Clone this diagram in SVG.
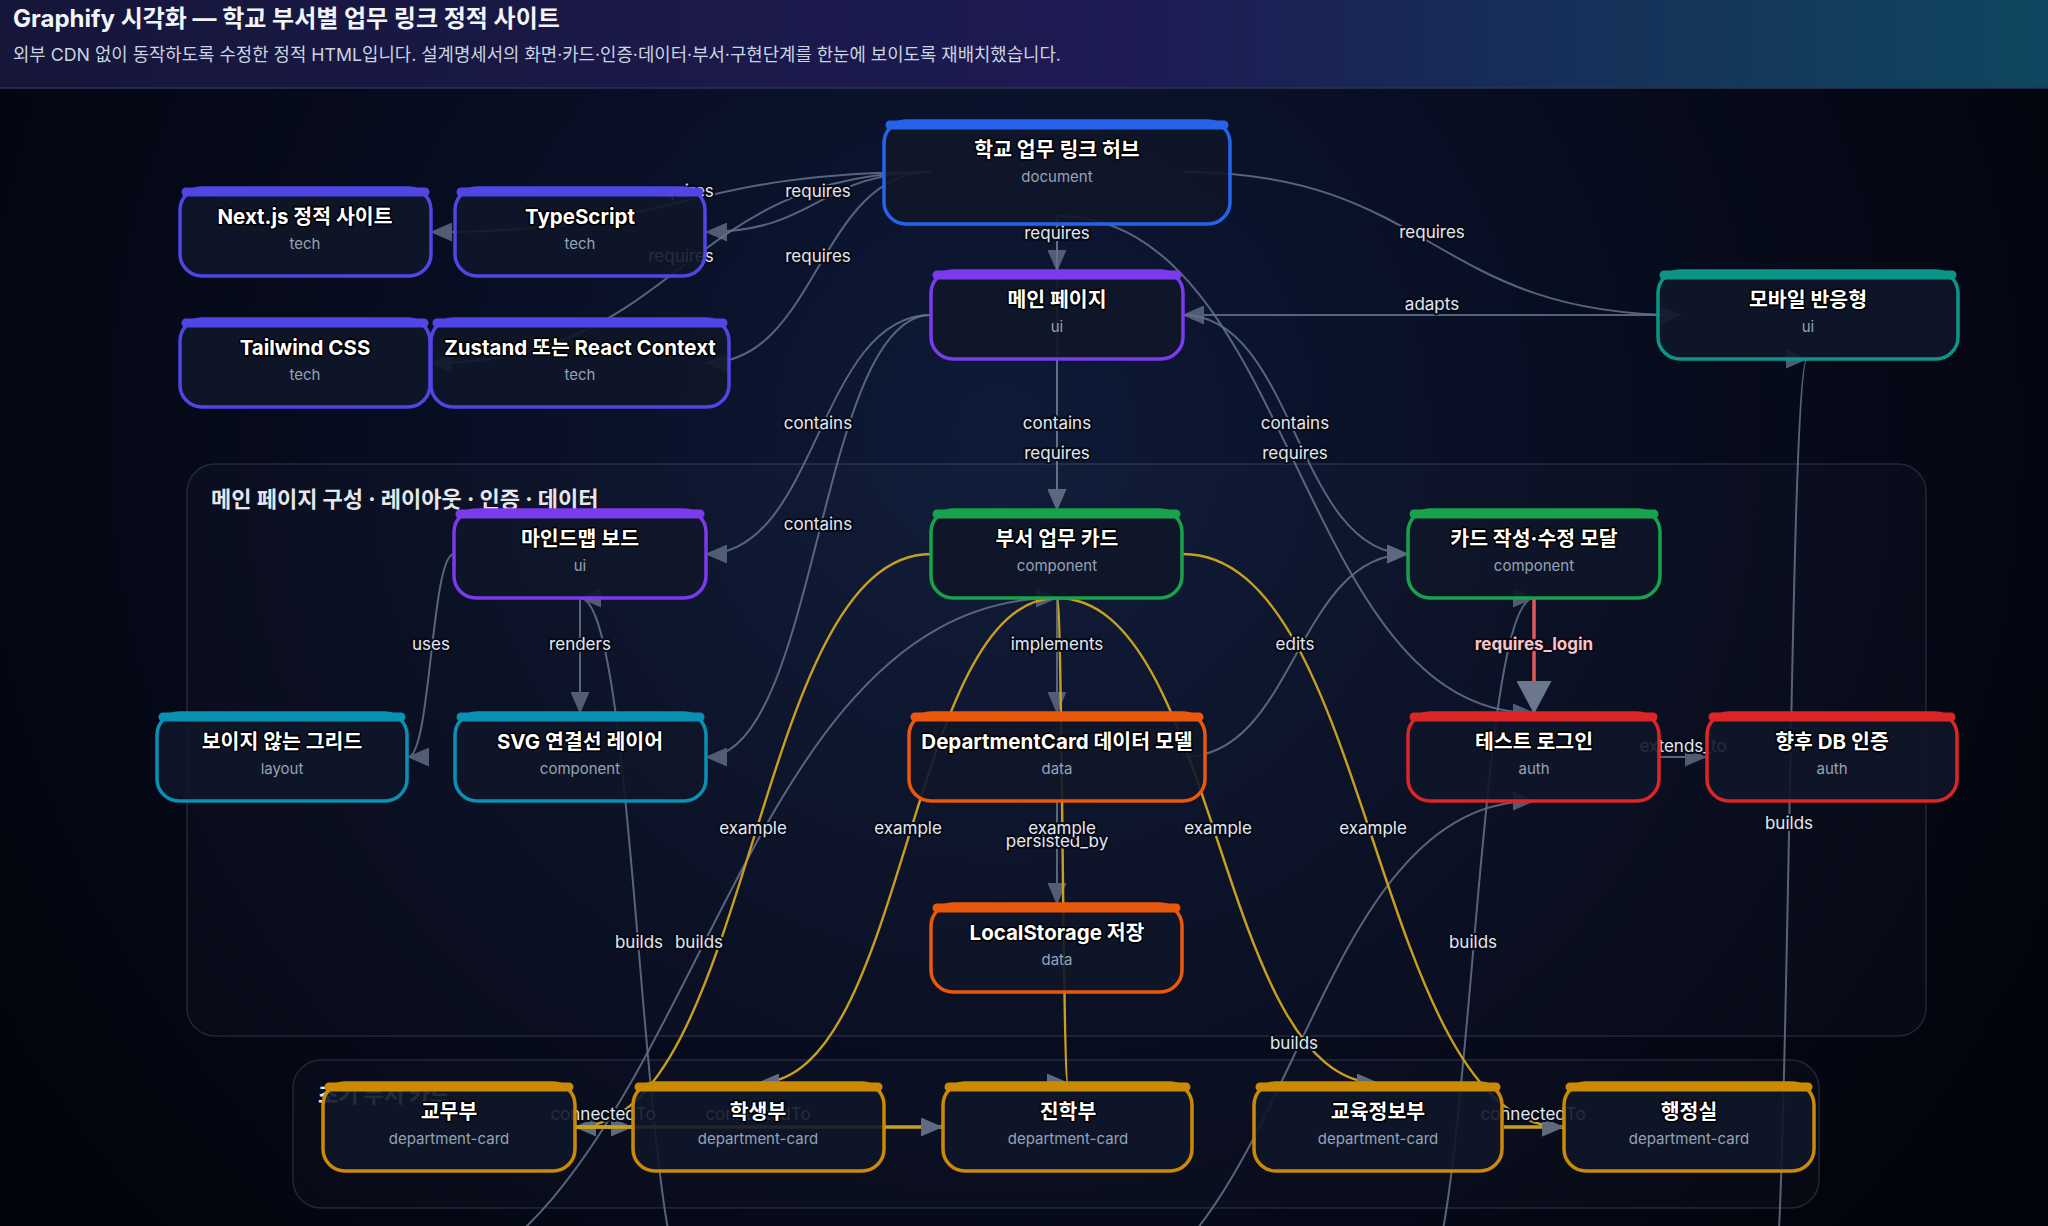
<svg xmlns="http://www.w3.org/2000/svg" width="2048" height="1226" viewBox="0 0 2048 1226">
<defs>
<radialGradient id="bg" cx="1000" cy="430" r="1150" gradientUnits="userSpaceOnUse">
<stop offset="0" stop-color="#0e1a38"/>
<stop offset="0.55" stop-color="#070c1f"/>
<stop offset="1" stop-color="#03050d"/>
</radialGradient>
<linearGradient id="hdr" x1="0" y1="0" x2="1" y2="0">
<stop offset="0" stop-color="#16163b"/>
<stop offset="0.55" stop-color="#1d1b52"/>
<stop offset="1" stop-color="#0f4660"/>
</linearGradient>
<marker id="ar" viewBox="0 0 22 19" refX="21" refY="9.5" markerWidth="22" markerHeight="19" markerUnits="userSpaceOnUse" orient="auto"><path d="M0,0 L22,9.5 L0,19 z" fill="#5d6a80"/></marker>
<marker id="arb" viewBox="0 0 33 35" refX="32" refY="17.5" markerWidth="33" markerHeight="35" markerUnits="userSpaceOnUse" orient="auto"><path d="M0,0 L33,17.5 L0,35 z" fill="#6b778c"/></marker>
<style>
text{font-family:Inter,"Noto Sans CJK KR",sans-serif}
.e{fill:none;stroke:#64748b;stroke-width:2;opacity:.85;marker-end:url(#ar)}
.ey{fill:none;stroke:#c9a01c;stroke-width:2.4;marker-end:url(#ar)}
.ec{fill:none;stroke:#c9a01c;stroke-width:3.5;marker-end:url(#ar)}
.er{fill:none;stroke:#e05a5a;stroke-width:3.5;marker-end:url(#arb)}
.lbl{font-size:17px;fill:#e2e8f0;text-anchor:middle;stroke:#070b18;stroke-width:4;paint-order:stroke;stroke-linejoin:round}
.lblr{font-size:17px;font-weight:700;fill:#fbc4c4;text-anchor:middle;stroke:#070b18;stroke-width:4;paint-order:stroke;stroke-linejoin:round}
.box{fill:#0f1629;fill-opacity:.9;stroke-width:3.5}
.bar{stroke-width:9;stroke-linecap:round}
.ttl{font-size:20.5px;font-weight:700;fill:#ffffff;text-anchor:middle;stroke:#000;stroke-width:3;paint-order:stroke;stroke-linejoin:round}
.sub{font-size:15px;fill:#94a3b8;text-anchor:middle}
.grp{fill:#94a3b8;fill-opacity:.03;stroke:#94a3b8;stroke-opacity:.2;stroke-width:1.5}
.gt{font-size:22px;font-weight:700;fill:#e5e7eb}
.doc{stroke:#2563eb}.ui{stroke:#7c3aed}.tech{stroke:#4f46e5}.teal{stroke:#0d9488}.lay{stroke:#0891b2}.cmp{stroke:#16a34a}.dat{stroke:#ea580c}.auth{stroke:#dc2626}.dept{stroke:#ca8a04}
</style>
</defs>
<rect width="2048" height="1226" fill="url(#bg)"/>
<g id="header">
<rect width="2048" height="88" fill="url(#hdr)"/>
<line x1="0" y1="88" x2="2048" y2="88" stroke="#2a3356" stroke-width="1.5"/>
<text x="13" y="27" font-size="24" font-weight="700" fill="#f1f5f9">Graphify 시각화 — 학교 부서별 업무 링크 정적 사이트</text>
<text x="13" y="61" font-size="17.8" fill="#cbd5e1">외부 CDN 없이 동작하도록 수정한 정적 HTML입니다. 설계명세서의 화면·카드·인증·데이터·부서·구현단계를 한눈에 보이도록 재배치했습니다.</text>
</g>
<g id="groups">
<rect class="grp" x="187" y="464" width="1739" height="572" rx="28"/>
<text class="gt" x="211" y="507">메인 페이지 구성 · 레이아웃 · 인증 · 데이터</text>
<rect class="grp" x="293" y="1060" width="1526" height="148" rx="28"/>
<text class="gt" x="318" y="1102">초기 부서 카드</text>
</g>
<g id="connectors">
<path class="e" d="M931,172 C681,172 681,232 431,232"/>
<path class="e" d="M931,172 C818,172 818,232 706,232"/>
<path class="e" d="M931,172 C681,172 681,363 431,363"/>
<path class="e" d="M931,172 C818,172 818,363 706,363"/>
<path class="e" d="M1057,216 L1057,271"/>
<path class="e" d="M1183,172 C1432,172 1432,315 1681,315"/>
<path class="e" d="M1681,315 L1183,315"/>
<path class="e" d="M1057,216 L1057,510"/>
<path class="e" d="M1057,216 C1295.5,216 1295.5,713 1534,713"/>
<path class="e" d="M931,315 C818,315 818,554 706,554"/>
<path class="e" d="M931,315 C818,315 818,757 706,757"/>
<path class="e" d="M1057,359 L1057,510"/>
<path class="e" d="M1183,315 C1295.5,315 1295.5,554 1408,554"/>
<path class="e" d="M454,554 C431,554 431,757 408,757"/>
<path class="e" d="M580,598 L580,713"/>
<path class="e" d="M1057,598 L1057,713"/>
<path class="e" d="M1057,801 L1057,904"/>
<path class="e" d="M1183,757 C1295.5,757 1295.5,554 1408,554"/>
<path class="e" d="M1660,757 L1706,757"/>
<path class="e" d="M341,1308 C699,1308 699,598 1057,598"/>
<path class="e" d="M698,1308 C639,1308 639,598 580,598"/>
<path class="e" d="M1055,1308 C1294.5,1308 1294.5,801 1534,801"/>
<path class="e" d="M1412,1308 C1473,1308 1473,598 1534,598"/>
<path class="e" d="M1771,1308 C1789,1308 1789,359 1807,359"/>
<path class="ey" d="M931,554 C753,554 753,1127 575,1127"/>
<path class="ey" d="M1057,598 C907.5,598 907.5,1083 758,1083"/>
<path class="ey" d="M1057,598 C1062.5,598 1062.5,1083 1068,1083"/>
<path class="ey" d="M1057,598 C1217.5,598 1217.5,1083 1378,1083"/>
<path class="ey" d="M1183,554 C1373,554 1373,1127 1563,1127"/>
<path class="ec" d="M575,1127 L632,1127"/>
<path class="ec" d="M575,1127 L942,1127"/>
<path class="ec" d="M1504,1127 L1563,1127"/>
<path class="er" d="M1534,598 L1534,713"/>
<text class="lbl" x="681" y="197">requires</text>
<text class="lbl" x="818" y="197">requires</text>
<text class="lbl" x="681" y="262">requires</text>
<text class="lbl" x="818" y="262">requires</text>
<text class="lbl" x="1057" y="239">requires</text>
<text class="lbl" x="1432" y="238">requires</text>
<text class="lbl" x="1432" y="310">adapts</text>
<text class="lbl" x="818" y="429">contains</text>
<text class="lbl" x="1057" y="429">contains</text>
<text class="lbl" x="1295" y="429">contains</text>
<text class="lbl" x="1057" y="459">requires</text>
<text class="lbl" x="1295" y="459">requires</text>
<text class="lbl" x="818" y="530">contains</text>
<text class="lbl" x="431" y="650">uses</text>
<text class="lbl" x="580" y="650">renders</text>
<text class="lbl" x="1057" y="650">implements</text>
<text class="lbl" x="1295" y="650">edits</text>
<text class="lblr" x="1534" y="650">requires_login</text>
<text class="lbl" x="1683" y="752">extends_to</text>
<text class="lbl" x="1789" y="829">builds</text>
<text class="lbl" x="1057" y="847">persisted_by</text>
<text class="lbl" x="753" y="834">example</text>
<text class="lbl" x="908" y="834">example</text>
<text class="lbl" x="1062" y="834">example</text>
<text class="lbl" x="1218" y="834">example</text>
<text class="lbl" x="1373" y="834">example</text>
<text class="lbl" x="639" y="948">builds</text>
<text class="lbl" x="699" y="948">builds</text>
<text class="lbl" x="1473" y="948">builds</text>
<text class="lbl" x="1294" y="1049">builds</text>
<text class="lbl" x="603" y="1120">connectedTo</text>
<text class="lbl" x="758" y="1120">connectedTo</text>
<text class="lbl" x="1533" y="1120">connectedTo</text>
</g>
<g id="n-hub"><rect class="box doc" x="884" y="121" width="346" height="103" rx="22"/><line class="bar doc" x1="890" y1="125" x2="1224" y2="125"/><text class="ttl" x="1057" y="157">학교 업무 링크 허브</text><text class="sub" x="1057" y="182">document</text></g>
<g id="n-main"><rect class="box ui" x="931" y="271" width="252" height="88" rx="22"/><line class="bar ui" x1="937" y1="275" x2="1177" y2="275"/><text class="ttl" x="1057" y="307">메인 페이지</text><text class="sub" x="1057" y="332">ui</text></g>
<g id="n-mobile"><rect class="box teal" x="1658" y="271" width="300" height="88" rx="22"/><line class="bar teal" x1="1664" y1="275" x2="1952" y2="275"/><text class="ttl" x="1808" y="307">모바일 반응형</text><text class="sub" x="1808" y="332">ui</text></g>
<g id="n-next"><rect class="box tech" x="180" y="188" width="251" height="88" rx="22"/><line class="bar tech" x1="186" y1="192" x2="425" y2="192"/><text class="ttl" x="305" y="224">Next.js 정적 사이트</text><text class="sub" x="305" y="249">tech</text></g>
<g id="n-ts"><rect class="box tech" x="455" y="188" width="250" height="88" rx="22"/><line class="bar tech" x1="461" y1="192" x2="699" y2="192"/><text class="ttl" x="580" y="224">TypeScript</text><text class="sub" x="580" y="249">tech</text></g>
<g id="n-tailwind"><rect class="box tech" x="180" y="319" width="250" height="88" rx="22"/><line class="bar tech" x1="186" y1="323" x2="424" y2="323"/><text class="ttl" x="305" y="355">Tailwind CSS</text><text class="sub" x="305" y="380">tech</text></g>
<g id="n-zustand"><rect class="box tech" x="431" y="319" width="298" height="88" rx="22"/><line class="bar tech" x1="437" y1="323" x2="723" y2="323"/><text class="ttl" x="580" y="355">Zustand 또는 React Context</text><text class="sub" x="580" y="380">tech</text></g>
<g id="n-mindmap"><rect class="box ui" x="454" y="510" width="252" height="88" rx="22"/><line class="bar ui" x1="460" y1="514" x2="700" y2="514"/><text class="ttl" x="580" y="546">마인드맵 보드</text><text class="sub" x="580" y="571">ui</text></g>
<g id="n-grid"><rect class="box lay" x="157" y="713" width="250" height="88" rx="22"/><line class="bar lay" x1="163" y1="717" x2="401" y2="717"/><text class="ttl" x="282" y="749">보이지 않는 그리드</text><text class="sub" x="282" y="774">layout</text></g>
<g id="n-svg"><rect class="box lay" x="455" y="713" width="251" height="88" rx="22"/><line class="bar lay" x1="461" y1="717" x2="700" y2="717"/><text class="ttl" x="580" y="749">SVG 연결선 레이어</text><text class="sub" x="580" y="774">component</text></g>
<g id="n-card"><rect class="box cmp" x="931" y="510" width="251" height="88" rx="22"/><line class="bar cmp" x1="937" y1="514" x2="1176" y2="514"/><text class="ttl" x="1057" y="546">부서 업무 카드</text><text class="sub" x="1057" y="571">component</text></g>
<g id="n-model"><rect class="box dat" x="909" y="713" width="296" height="88" rx="22"/><line class="bar dat" x1="915" y1="717" x2="1199" y2="717"/><text class="ttl" x="1057" y="749">DepartmentCard 데이터 모델</text><text class="sub" x="1057" y="774">data</text></g>
<g id="n-modal"><rect class="box cmp" x="1408" y="510" width="252" height="88" rx="22"/><line class="bar cmp" x1="1414" y1="514" x2="1654" y2="514"/><text class="ttl" x="1534" y="546">카드 작성·수정 모달</text><text class="sub" x="1534" y="571">component</text></g>
<g id="n-login"><rect class="box auth" x="1408" y="713" width="251" height="88" rx="22"/><line class="bar auth" x1="1414" y1="717" x2="1653" y2="717"/><text class="ttl" x="1534" y="749">테스트 로그인</text><text class="sub" x="1534" y="774">auth</text></g>
<g id="n-dbauth"><rect class="box auth" x="1707" y="713" width="250" height="88" rx="22"/><line class="bar auth" x1="1713" y1="717" x2="1951" y2="717"/><text class="ttl" x="1832" y="749">향후 DB 인증</text><text class="sub" x="1832" y="774">auth</text></g>
<g id="n-storage"><rect class="box dat" x="931" y="904" width="251" height="88" rx="22"/><line class="bar dat" x1="937" y1="908" x2="1176" y2="908"/><text class="ttl" x="1057" y="940">LocalStorage 저장</text><text class="sub" x="1057" y="965">data</text></g>
<g id="n-d1"><rect class="box dept" x="323" y="1083" width="252" height="88" rx="22"/><line class="bar dept" x1="329" y1="1087" x2="569" y2="1087"/><text class="ttl" x="449" y="1119">교무부</text><text class="sub" x="449" y="1144">department-card</text></g>
<g id="n-d2"><rect class="box dept" x="633" y="1083" width="251" height="88" rx="22"/><line class="bar dept" x1="639" y1="1087" x2="878" y2="1087"/><text class="ttl" x="758" y="1119">학생부</text><text class="sub" x="758" y="1144">department-card</text></g>
<g id="n-d3"><rect class="box dept" x="943" y="1083" width="249" height="88" rx="22"/><line class="bar dept" x1="949" y1="1087" x2="1186" y2="1087"/><text class="ttl" x="1068" y="1119">진학부</text><text class="sub" x="1068" y="1144">department-card</text></g>
<g id="n-d4"><rect class="box dept" x="1254" y="1083" width="248" height="88" rx="22"/><line class="bar dept" x1="1260" y1="1087" x2="1496" y2="1087"/><text class="ttl" x="1378" y="1119">교육정보부</text><text class="sub" x="1378" y="1144">department-card</text></g>
<g id="n-d5"><rect class="box dept" x="1564" y="1083" width="250" height="88" rx="22"/><line class="bar dept" x1="1570" y1="1087" x2="1808" y2="1087"/><text class="ttl" x="1689" y="1119">행정실</text><text class="sub" x="1689" y="1144">department-card</text></g>
</svg>
